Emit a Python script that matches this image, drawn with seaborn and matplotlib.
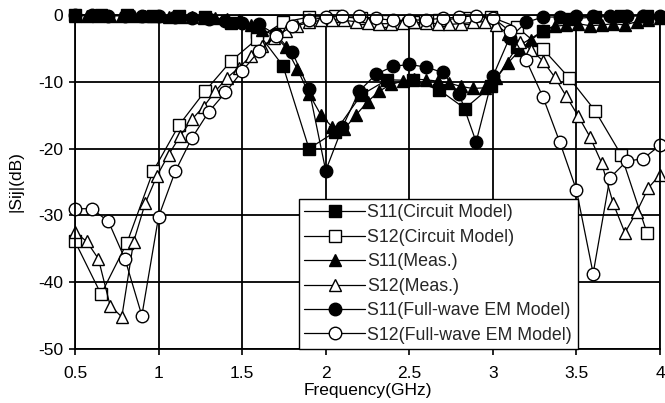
import matplotlib
matplotlib.use("Agg")
import matplotlib.pyplot as plt
import numpy as np
import pandas as pd
import seaborn as sns

sns.set_theme(style="white")
plt.rcParams['font.family'] = ['Liberation Sans', 'DejaVu Sans']
plt.rcParams['axes.unicode_minus'] = False

# Circuit model frequency grid (GHz)
freq_cm = [0.5, 0.656, 0.811, 0.967, 1.122, 1.278, 1.433, 1.589, 1.744, 1.9,
           2.056, 2.211, 2.367, 2.522, 2.678, 2.833, 2.989, 3.144, 3.3, 3.456,
           3.611, 3.767, 3.922]
s11_cm = [0.0, 0.0, 0.0, -0.1, -0.1, -0.3, -1.2, -2.5, -7.6, -20.0,
          -17.5, -12.0, -9.7, -9.8, -11.2, -14.0, -10.7, -4.8, -2.4, -0.6,
          -0.3, -0.2, -0.1]
s12_cm = [-33.9, -41.8, -34.1, -23.4, -16.5, -11.4, -6.9, -3.6, -1.1, -0.3,
          -0.2, -0.5, -0.9, -1.0, -0.8, -0.4, -0.3, -1.8, -5.1, -9.4,
          -14.3, -20.9, -32.6]

# Measurement frequency grid (GHz)
freq_meas = [0.5, 0.57, 0.64, 0.71, 0.78, 0.85, 0.92, 0.99, 1.06, 1.13,
             1.2, 1.27, 1.34, 1.41, 1.48, 1.55, 1.62, 1.69, 1.76, 1.83,
             1.9, 1.97, 2.04, 2.11, 2.18, 2.25, 2.32, 2.39, 2.46, 2.53,
             2.6, 2.67, 2.74, 2.81, 2.88, 2.95, 3.02, 3.09, 3.16, 3.23,
             3.3, 3.37, 3.44, 3.51, 3.58, 3.65, 3.72, 3.79, 3.86, 3.93, 4.0]
s11_meas = [-0.1, -0.1, -0.2, -0.1, -0.1, -0.2, -0.2, -0.2, -0.3, -0.3,
            -0.3, -0.4, -0.5, -0.6, -0.8, -1.5, -2.2, -3.0, -4.8, -8.1,
            -11.8, -14.9, -16.8, -17.1, -15.0, -13.0, -11.4, -10.4, -9.9, -9.6,
            -9.7, -9.9, -10.2, -10.7, -11.0, -10.9, -9.5, -7.2, -5.3, -3.7,
            -2.4, -1.7, -1.5, -1.3, -1.6, -1.5, -1.3, -1.5, -1.0, -0.7, -0.5]
s12_meas = [-32.5, -33.9, -36.5, -43.5, -45.2, -34.0, -28.2, -24.1, -20.9, -18.1,
            -15.6, -13.7, -11.4, -9.4, -7.9, -6.2, -4.7, -3.4, -2.4, -1.6,
            -1.1, -0.8, -0.7, -0.8, -1.0, -1.2, -1.3, -1.3, -1.2, -1.1,
            -1.2, -1.3, -1.4, -1.3, -1.1, -1.0, -1.5, -2.8, -4.0, -5.2,
            -6.9, -9.3, -12.2, -15.1, -18.2, -22.1, -28.2, -32.6, -29.5, -25.9, -23.9]

# Full-wave EM model frequency grid (GHz)
freq_em = [0.5, 0.6, 0.7, 0.8, 0.9, 1.0, 1.1, 1.2, 1.3, 1.4, 1.5, 1.6,
           1.7, 1.8, 1.9, 2.0, 2.1, 2.2, 2.3, 2.4, 2.5, 2.6, 2.7, 2.8,
           2.9, 3.0, 3.1, 3.2, 3.3, 3.4, 3.5, 3.6, 3.7, 3.8, 3.9, 4.0]
s11_em = [0.0, 0.0, -0.1, -0.1, -0.1, -0.2, -0.3, -0.4, -0.6, -0.9, -1.2, -1.4,
          -2.9, -5.6, -11.1, -23.3, -16.8, -11.4, -8.9, -7.7, -7.4, -7.8, -8.6, -11.9,
          -19.0, -9.2, -3.4, -1.1, -0.3, -0.3, -0.2, -0.2, -0.1, -0.1, -0.1, -0.1]
s12_em = [-29.0, -29.0, -30.9, -36.6, -45.0, -30.2, -23.4, -18.4, -14.5, -11.6, -8.4, -5.4,
          -3.2, -1.7, -0.8, -0.3, -0.1, -0.2, -0.5, -0.8, -0.8, -0.7, -0.5, -0.3,
          -0.1, -0.4, -2.4, -6.8, -12.3, -19.0, -26.2, -38.7, -24.4, -21.9, -21.5, -19.5]

x_ticks = [0.5, 1, 1.5, 2, 2.5, 3, 3.5, 4]
x_labels = ["0.5", "1", "1.5", "2", "2.5", "3", "3.5", "4"]
y_ticks = [-50, -40, -30, -20, -10, 0]
y_labels = ["-50", "-40", "-30", "-20", "-10", "0"]

series = [
    ("S11(Circuit Model)", freq_cm, s11_cm, "s", "black", 8),
    ("S12(Circuit Model)", freq_cm, s12_cm, "s", "white", 8),
    ("S11(Meas.)", freq_meas, s11_meas, "^", "black", 9),
    ("S12(Meas.)", freq_meas, s12_meas, "^", "white", 9),
    ("S11(Full-wave EM Model)", freq_em, s11_em, "o", "black", 9),
    ("S12(Full-wave EM Model)", freq_em, s12_em, "o", "white", 9),
]

fs = 12.5

fig = plt.figure(figsize=(6.65, 4.03), dpi=100)
ax = fig.add_axes([75 / 665, 1 - 349 / 403, 585 / 665, 334 / 403])

for label, fx, fy, mk, face, ms in series:
    df = pd.DataFrame({"f": fx, "s": fy})
    sns.lineplot(data=df, x="f", y="s", ax=ax, color="black", linewidth=0.9,
                 marker=mk, markersize=ms, markerfacecolor=face,
                 markeredgecolor="black", markeredgewidth=1.0,
                 label=label, clip_on=False, sort=False)

ax.set_xlim(0.5, 4)
ax.set_ylim(-50, 0)
ax.set_xticks(x_ticks)
ax.set_xticklabels(x_labels)
ax.set_yticks(y_ticks)
ax.set_yticklabels(y_labels)
ax.grid(True, color="black", linewidth=1.3)
ax.set_axisbelow(True)
for spine in ax.spines.values():
    spine.set_visible(True)
    spine.set_color("black")
    spine.set_linewidth(1.3)
ax.tick_params(axis="both", direction="out", length=4.5, width=1.2,
               color="black", labelsize=fs, labelcolor="black",
               bottom=True, left=True)
ax.tick_params(axis="x", pad=8)
ax.tick_params(axis="y", pad=4)

ax.set_xlabel("Frequency(GHz)", fontsize=fs, color="black", labelpad=1)
ax.set_ylabel("|Sij|(dB)", fontsize=fs, color="black")
ax.yaxis.set_label_coords(-0.088, 0.5)

leg = ax.legend(loc="lower left", bbox_to_anchor=(0.383, 0.0), borderaxespad=0,
                fontsize=12.8, frameon=True, fancybox=False, framealpha=1,
                edgecolor="black", handlelength=3.4, handletextpad=0.15,
                labelspacing=0.42, borderpad=0.3, numpoints=1)
leg.get_frame().set_linewidth(1.0)
leg.set_zorder(10)

fig.savefig("out.png", dpi=100)
